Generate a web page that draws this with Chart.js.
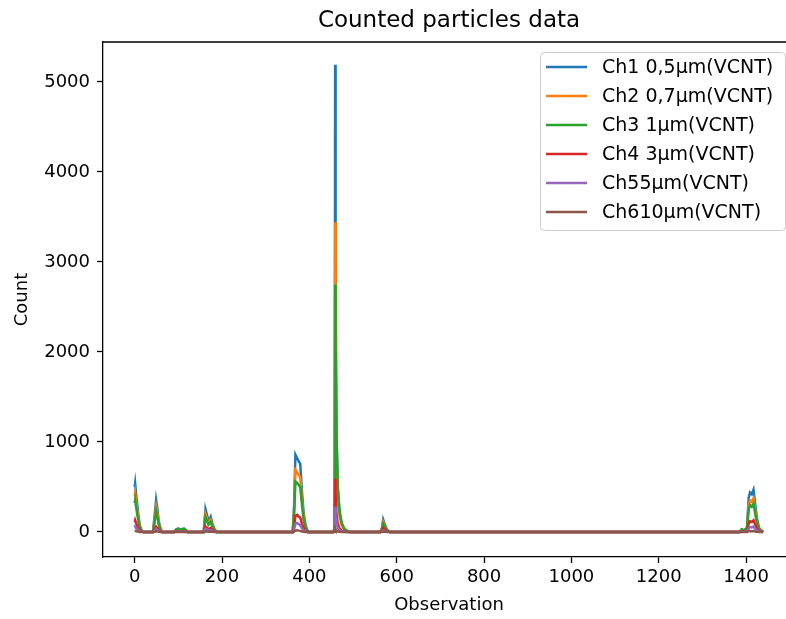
<!DOCTYPE html>
<html>
<head>
<meta charset="utf-8">
<script src="https://cdn.jsdelivr.net/npm/chart.js@4.4.1/dist/chart.umd.min.js"></script>
<style>
  html, body { margin: 0; padding: 0; background: #fff; overflow: hidden; }
  #wrap { width: 786px; height: 619px; overflow: hidden; }
</style>
</head>
<body>
<div id="wrap"><canvas id="chart" width="800" height="619"></canvas></div>
<script>
// Observation index of each sampled point (flat zero stretches in between)
const obs = [
  0, 1, 3, 6, 9, 12, 16, 20,
  42, 46, 49, 52, 55, 59, 63,
  90, 95, 100, 104, 108, 113, 118, 122,
  158, 162, 165, 169, 174, 178, 183, 188,
  362, 365, 368, 372, 376, 379, 383, 387, 392, 397,
  455, 458, 459, 460, 462, 465, 469, 474, 480, 487, 494,
  562, 566, 569, 573, 578, 585,
  1385, 1390, 1395, 1402, 1406, 1409, 1413, 1417, 1421, 1425, 1430, 1439
]

const ch1 = [
  500, 540, 430, 290, 160, 70, 15, 0,
  0, 200, 355, 250, 120, 40, 0,
  0, 25, 35, 20, 30, 35, 15, 0,
  0, 255, 200, 120, 170, 90, 30, 0,
  0, 300, 860, 820, 780, 760, 450, 200, 60, 0,
  0, 60, 5190, 3000, 1100, 500, 220, 90, 30, 8, 0,
  0, 40, 138, 80, 25, 0,
  0, 30, 15, 40, 380, 440, 420, 470, 300, 150, 40, 0
]
const ch2 = [
  400, 430, 345, 232, 128, 56, 12, 0,
  0, 160, 280, 200, 96, 32, 0,
  0, 20, 28, 16, 24, 28, 12, 0,
  0, 200, 160, 96, 136, 72, 24, 0,
  0, 240, 690, 660, 630, 610, 360, 160, 48, 0,
  0, 50, 3440, 2000, 880, 400, 176, 72, 24, 6, 0,
  0, 32, 110, 64, 20, 0,
  0, 24, 12, 32, 300, 350, 335, 375, 240, 120, 32, 0
]
const ch3 = [
  320, 355, 285, 190, 105, 46, 10, 0,
  0, 130, 230, 165, 80, 26, 0,
  0, 30, 40, 22, 32, 38, 14, 0,
  0, 165, 130, 80, 112, 60, 20, 0,
  0, 200, 560, 545, 520, 500, 300, 130, 40, 0,
  0, 40, 2750, 2100, 1100, 500, 230, 100, 35, 10, 0,
  0, 26, 90, 52, 16, 0,
  0, 30, 20, 40, 250, 300, 280, 315, 200, 100, 28, 0
]
const ch4 = [
  110, 130, 100, 65, 35, 15, 4, 0,
  0, 35, 60, 45, 20, 6, 0,
  0, 5, 8, 4, 6, 8, 3, 0,
  0, 60, 50, 30, 45, 22, 6, 0,
  0, 60, 180, 190, 170, 160, 90, 40, 10, 0,
  0, 10, 590, 420, 200, 90, 40, 15, 5, 0, 0,
  0, 10, 45, 25, 6, 0,
  0, 6, 4, 8, 90, 120, 110, 130, 80, 40, 10, 0
]
const ch5 = [
  50, 60, 45, 30, 16, 7, 2, 0,
  0, 15, 35, 22, 10, 3, 0,
  0, 2, 3, 2, 2, 3, 1, 0,
  0, 35, 28, 15, 22, 10, 3, 0,
  0, 30, 90, 100, 85, 75, 40, 18, 5, 0,
  0, 5, 280, 200, 100, 45, 20, 8, 2, 0, 0,
  0, 4, 15, 8, 2, 0,
  0, 3, 2, 4, 40, 55, 50, 60, 35, 18, 4, 0
]
const ch6 = [
  10, 12, 9, 6, 3, 1, 0, 0,
  0, 3, 6, 4, 2, 0, 0,
  0, 0, 1, 0, 0, 1, 0, 0,
  0, 6, 5, 3, 4, 2, 0, 0,
  0, 5, 15, 18, 15, 12, 6, 3, 1, 0,
  0, 1, 40, 30, 15, 6, 3, 1, 0, 0, 0,
  0, 1, 3, 2, 0, 0,
  0, 0, 0, 1, 8, 10, 9, 11, 6, 3, 1, 0
]

const seriesNames = ['Ch1 0,5µm(VCNT)', 'Ch2 0,7µm(VCNT)', 'Ch3 1µm(VCNT)', 'Ch4 3µm(VCNT)', 'Ch55µm(VCNT)', 'Ch610µm(VCNT)']
const seriesValues = [ch1, ch2, ch3, ch4, ch5, ch6]
const xTicks = [0, 200, 400, 600, 800, 1000, 1200, 1400]
const yTicks = [0, 1000, 2000, 3000, 4000, 5000]

const colors = ['#1f77b4', '#ff7f0e', '#2ca02c', '#d62728', '#9467bd', '#8c564b']
const FONT = '"DejaVu Sans", sans-serif'

// title centered over the axes, like matplotlib
const axesTitle = {
  id: 'axesTitle',
  afterDraw(chart) {
    const ctx = chart.ctx
    const ca = chart.chartArea
    ctx.save()
    ctx.font = '23px ' + FONT
    ctx.fillStyle = '#000'
    ctx.textAlign = 'center'
    ctx.textBaseline = 'alphabetic'
    ctx.fillText('Counted particles data', (ca.left + ca.right) / 2, 27)
    ctx.restore()
  }
}

// top/right spines
const frame = {
  id: 'frame',
  afterDatasetsDraw(chart) {
    const ctx = chart.ctx
    const ca = chart.chartArea
    ctx.save()
    ctx.strokeStyle = '#000'
    ctx.lineWidth = 1.3
    ctx.beginPath()
    ctx.moveTo(ca.left, ca.top)
    ctx.lineTo(ca.right, ca.top)
    ctx.lineTo(ca.right, ca.bottom)
    ctx.stroke()
    ctx.restore()
  }
}

// legend box inside the axes, upper right
const legendBox = {
  id: 'legendBox',
  afterDraw(chart) {
    const ctx = chart.ctx
    const ca = chart.chartArea
    const right = ca.right - 10
    const left = right - 245
    const top = ca.top + 10
    const rowH = 29
    ctx.save()
    ctx.beginPath()
    ctx.roundRect(left + 0.5, top + 0.5, right - left, 178, 4)
    ctx.fillStyle = 'rgba(255,255,255,0.8)'
    ctx.fill()
    ctx.strokeStyle = '#cccccc'
    ctx.lineWidth = 1
    ctx.stroke()
    ctx.font = '19px ' + FONT
    ctx.textBaseline = 'middle'
    ctx.textAlign = 'left'
    chart.data.datasets.forEach((ds, i) => {
      const y = top + 15 + i * rowH
      ctx.strokeStyle = ds.borderColor
      ctx.lineWidth = 2.5
      ctx.beginPath()
      ctx.moveTo(left + 6, y)
      ctx.lineTo(left + 47, y)
      ctx.stroke()
      ctx.fillStyle = '#000'
      ctx.fillText(ds.label, left + 62, y + 1)
    })
    ctx.restore()
  }
}

const datasets = seriesNames.map((name, i) => ({
  label: name,
  data: obs.map((x, j) => ({ x: x, y: seriesValues[i][j] })),
  borderColor: colors[i],
  backgroundColor: colors[i],
  borderWidth: 2.5,
  pointRadius: 0,
  tension: 0,
  order: seriesNames.length - 1 - i
}))

const config = {
  type: 'line',
  data: { datasets },
  options: {
    responsive: false,
    animation: false,
    devicePixelRatio: 1,
    layout: { padding: { top: 42, right: 5, left: 0, bottom: 0 } },
    plugins: {
      legend: { display: false },
      title: { display: false },
      tooltip: { enabled: false }
    },
    scales: {
      x: {
        type: 'linear',
        min: -72.6,
        max: 1512,
        afterFit: scale => { scale.height = 62 },
        afterBuildTicks: scale => { scale.ticks = xTicks.map(v => ({ value: v })) },
        grid: { drawOnChartArea: false, drawTicks: true, tickLength: 6, tickWidth: 1.3, tickColor: '#000' },
        border: { display: true, color: '#000', width: 1.3 },
        ticks: { color: '#000', font: { family: FONT, size: 18 }, padding: 4, maxRotation: 0, autoSkip: false, callback: v => String(v) },
        title: { display: true, text: 'Observation', color: '#000', font: { family: FONT, size: 18 }, padding: { bottom: 3 } }
      },
      y: {
        type: 'linear',
        min: -278,
        max: 5444,
        afterFit: scale => { scale.width = 103 },
        afterBuildTicks: scale => { scale.ticks = yTicks.map(v => ({ value: v })) },
        grid: { drawOnChartArea: false, drawTicks: true, tickLength: 6, tickWidth: 1.3, tickColor: '#000' },
        border: { display: true, color: '#000', width: 1.3 },
        ticks: { color: '#000', font: { family: FONT, size: 18 }, padding: 7, callback: v => String(v) },
        title: { display: true, text: 'Count', color: '#000', font: { family: FONT, size: 18 }, padding: { top: 12 } }
      }
    }
  },
  plugins: [axesTitle, frame, legendBox]
}

new Chart(document.getElementById('chart'), config)
</script>
</body>
</html>
